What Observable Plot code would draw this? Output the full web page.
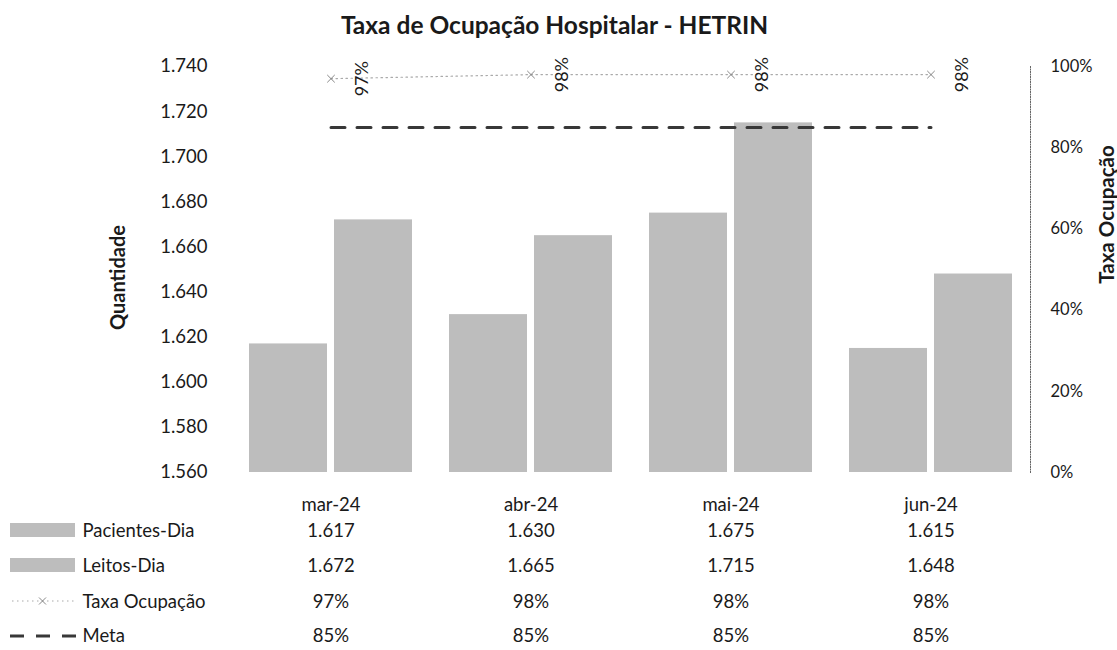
<!DOCTYPE html>
<html>
<head>
<meta charset="utf-8">
<script src="https://cdn.jsdelivr.net/npm/d3@7"></script>
<script src="https://cdn.jsdelivr.net/npm/@observablehq/plot@0.6"></script>
<style>
  html, body { margin: 0; padding: 0; background: #fff; }
  body { width: 1117px; height: 650px; position: relative; overflow: hidden; font-family: Lato, "Open Sans", sans-serif; color: #1a1a1a; }
  #title { height: 45px; line-height: 50px; text-align: center; font-weight: bold; font-size: 24.5px; padding-right: 8px; white-space: nowrap; }
  .sw { position: absolute; }
</style>
</head>
<body>
<div id="title">Taxa de Ocupação Hospitalar - HETRIN</div>
<div id="chart"></div>
<div id="legend"></div>
<script>
// ---- data ----
const months = ["mar-24", "abr-24", "mai-24", "jun-24"];
const pacientesDia = [1617, 1630, 1675, 1615];
const leitosDia = [1672, 1665, 1715, 1648];
const taxaOcupacao = [0.97, 0.98, 0.98, 0.98];
const meta = [0.85, 0.85, 0.85, 0.85];
const seriesNames = ["Pacientes-Dia", "Leitos-Dia", "Taxa Ocupação", "Meta"];
const yTicks = [1560, 1580, 1600, 1620, 1640, 1660, 1680, 1700, 1720, 1740];
const pctTicks = [0, 0.2, 0.4, 0.6, 0.8, 1.0];

// ---- helpers ----
const yDomain = [1560, 1740];
const toY = p => yDomain[0] + p * (yDomain[1] - yDomain[0]);
const fromY = v => (v - yDomain[0]) / (yDomain[1] - yDomain[0]);
const br = d3.formatLocale({decimal: ",", thousands: ".", grouping: [3], currency: ["R$", ""]});
const fmtNum = br.format(",");
const fmtPct = p => Math.round(p * 100) + "%";

const rows = months.map((m, i) => ({
  month: m, pacientes: pacientesDia[i], leitos: leitosDia[i], taxa: taxaOcupacao[i], meta: meta[i]
}));

const barFill = "#bdbdbd";
const txt = "#1a1a1a";
const rowOffsets = [64, 99, 135, 169];
const rowText = [d => fmtNum(d.pacientes), d => fmtNum(d.leitos), d => fmtPct(d.taxa), d => fmtPct(d.meta)];

const tableMarks = [];
seriesNames.forEach((name, i) => {
  tableMarks.push(Plot.text(rows, {x: "month", frameAnchor: "bottom", dy: rowOffsets[i], text: rowText[i], fontSize: 18.5, fill: txt}));
  tableMarks.push(Plot.text([name], {frameAnchor: "bottom-left", dx: -148, dy: rowOffsets[i], text: d => d, textAnchor: "start", fontSize: 18.5, fill: txt}));
});

const chart = Plot.plot({
  width: 1117,
  height: 605,
  marginTop: 21,
  marginBottom: 178,
  marginLeft: 230,
  marginRight: 87,
  style: {fontFamily: "Lato, 'Open Sans', sans-serif", fontSize: "18px", color: txt, background: "#fff", overflow: "visible"},
  x: {domain: months, paddingInner: 0.185, paddingOuter: 0.0925},
  y: {domain: yDomain},
  marks: [
    Plot.barY(rows, {x: "month", y1: yDomain[0], y2: "pacientes", fill: barFill, insetRight: 85}),
    Plot.barY(rows, {x: "month", y1: yDomain[0], y2: "leitos", fill: barFill, insetLeft: 85}),
    Plot.frame({anchor: "right", stroke: "#666", strokeDasharray: "1,1.5"}),
    Plot.line(rows, {x: "month", y: d => toY(d.meta), stroke: "#383838", strokeWidth: 3, strokeDasharray: "14,12"}),
    Plot.line(rows, {x: "month", y: d => toY(d.taxa), stroke: "#aaa", strokeWidth: 1.2, strokeDasharray: "1.5,3.5"}),
    Plot.dot(rows, {x: "month", y: d => toY(d.taxa), symbol: "times", r: 3.5, stroke: "#888", strokeWidth: 1}),
    Plot.text(rows, {x: "month", y: d => toY(d.taxa), text: d => fmtPct(d.taxa), rotate: -90, dx: 31, fontSize: 18, fill: txt}),
    Plot.axisY({ticks: yTicks, tickFormat: fmtNum, tickSize: 0, tickPadding: 23, fontSize: 18.5, label: null}),
    Plot.axisY({anchor: "right", ticks: pctTicks.map(toY), tickFormat: v => fmtPct(fromY(v)), tickSize: 0, tickPadding: 20, fontSize: 16.5, label: null}),
    Plot.axisX({tickSize: 0, tickPadding: 25, fontSize: 18.5, label: null}),
    Plot.text(["Quantidade"], {frameAnchor: "left", dx: -112, dy: 8, rotate: -90, text: d => d, textAnchor: "middle", fontWeight: "bold", fontSize: 20, fill: txt}),
    Plot.text(["Taxa Ocupação"], {frameAnchor: "right", dx: 77, dy: -55, rotate: -90, text: d => d, textAnchor: "middle", fontWeight: "bold", fontSize: 20.5, fill: txt}),
    ...tableMarks
  ]
});
document.getElementById("chart").appendChild(chart);

// ---- legend keys for the data table ----
const legend = document.getElementById("legend");
const keyTop = [530, 565, 601, 636];
legend.innerHTML = `
  <div class="sw" style="left:10px;top:${keyTop[0]-7}px;width:65px;height:14px;background:${barFill}"></div>
  <div class="sw" style="left:10px;top:${keyTop[1]-7}px;width:65px;height:14px;background:${barFill}"></div>
  <svg class="sw" style="left:8px;top:${keyTop[2]-8}px" width="72" height="16">
    <line x1="4" x2="68" y1="8" y2="8" stroke="#aaa" stroke-width="1.2" stroke-dasharray="1.5,3.5"/>
    <path d="M31,4.5L38,11.5M38,4.5L31,11.5" stroke="#888" stroke-width="1"/>
  </svg>
  <svg class="sw" style="left:8px;top:${keyTop[3]-8}px" width="72" height="16">
    <line x1="2" x2="70" y1="8" y2="8" stroke="#383838" stroke-width="3" stroke-dasharray="14,12"/>
  </svg>`;
</script>
</body>
</html>
